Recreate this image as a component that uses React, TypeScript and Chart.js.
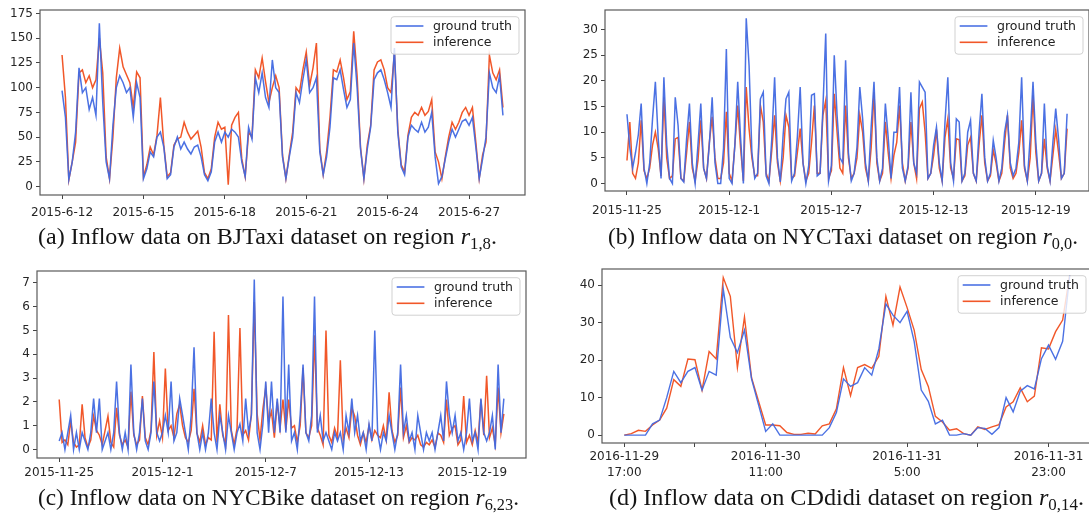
import React, { useEffect, useLayoutEffect, useRef } from "react";
import { Chart, registerables } from "chart.js";

Chart.register(...registerables);

const FONT = '"DejaVu Sans", sans-serif';
const BLUE = "rgba(65,105,225,0.95)";
const ORANGE = "rgba(240,78,30,0.95)";

// ---------- (a) BJTaxi, 3-hour steps starting 2015-6-12 ----------
const bjStepDays = 0.125;
const bjTruth = [
  97, 70, 7, 25, 55, 120, 95, 100,
  78, 90, 72, 165, 85, 25, 8, 62,
  100, 112, 105, 95, 100, 70, 105, 90,
  8, 18, 35, 30, 50, 55, 40, 8,
  12, 40, 50, 38, 45, 38, 33, 40,
  42, 30, 12, 6, 15, 45, 55, 45,
  55, 50, 58, 55, 50, 25, 10, 60,
  48, 110, 95, 115, 90, 80, 128, 100,
  95, 30, 8, 30, 50, 95, 85, 108,
  128, 95, 100, 110, 35, 12, 30, 60,
  110, 108, 118, 98, 80, 88, 145, 100,
  38, 8, 38, 60, 108, 115, 118, 108,
  95, 80, 140, 55, 20, 12, 50, 62,
  58, 55, 65, 55, 60, 75, 30, 3,
  10, 28, 45, 58, 50, 58, 66, 68,
  62, 70, 40, 8, 28, 50, 115, 100,
  95, 112, 72,
];
const bjInfer = [
  133, 90, 7, 25, 45, 115, 118, 105,
  112, 100, 108, 150, 115, 30, 8, 50,
  110, 140, 121, 113, 105, 80, 116, 110,
  10, 22, 40, 32, 52, 90, 42, 10,
  14, 42, 48, 50, 65, 55, 48, 52,
  56, 40, 14, 8, 18, 50, 65, 58,
  60, 2, 62, 70, 75, 28, 10, 55,
  50, 118, 110, 130, 106, 85, 100, 112,
  100, 32, 8, 32, 55, 100, 95, 118,
  136, 102, 120, 145, 38, 12, 35, 70,
  118, 116, 128, 110, 88, 96, 157, 112,
  40, 8, 42, 62, 118, 126, 128, 118,
  100, 95, 135, 58, 22, 15, 52, 70,
  75, 72, 80, 72, 76, 88, 35, 25,
  8, 30, 50, 65, 58, 65, 75, 80,
  72, 80, 45, 8, 32, 45, 133, 115,
  108, 118, 80,
];
const bjTickDays = [0, 3, 6, 9, 12, 15];
const bjTickLabels = ["2015-6-12", "2015-6-15", "2015-6-18", "2015-6-21", "2015-6-24", "2015-6-27"];
const bjYTicks = [0, 25, 50, 75, 100, 125, 150, 175];

// ---------- (b) NYCTaxi, 4-hour steps starting 2015-11-25 ----------
const nycStepDays = 1 / 6;
const nycTaxiTruth = [
  13.5, 7, 3, 6, 9.5, 15.6, 3, 0, 4, 12.6,
  19.8, 8.7, 1, 20.7, 7.5, 1, 0, 16.8, 11.3, 1,
  0.3, 8.7, 15.6, 4, 0, 7.5, 15.6, 3, 1, 7.5,
  16.8, 4, 0, 0, 6.8, 26.2, 1, 0, 7.5, 19.8,
  9, 0, 32.2, 23, 6, 1, 2, 16.5, 17.8, 1.5,
  0, 8.7, 20.7, 5, 0.3, 9.5, 16.5, 17.8, 0.5, 2,
  9, 18.8, 4, 0, 3.5, 17.2, 17.5, 1.5, 2, 14.6,
  29.2, 0.5, 3.5, 25, 13.3, 5, 4, 24, 6, 0.5,
  2, 7, 18.8, 12.6, 4, 0.5, 11, 19.8, 5, 0.5,
  3, 15.6, 9, 1, 10, 10, 18.8, 3, 0.5, 3.5,
  17.8, 4, 2, 19.8, 18.8, 17.8, 1, 2, 7.5, 11,
  4, 0.5, 12, 20.7, 4, 0.5, 12.6, 12, 0.5, 2,
  10, 12.3, 2, 0.5, 10, 17.5, 5, 0.5, 2, 8.4,
  5, 0.5, 3, 10, 13.3, 4, 1.5, 3, 8, 20.7,
  3.5, 0.5, 9, 19.8, 8, 0.5, 2, 15.6, 3.5, 0.5,
  8, 14.6, 8.7, 1, 2, 13.6,
];
const nycTaxiInfer = [
  4.5, 12, 2, 1, 4, 12.3, 2.5, 1, 3, 7.5,
  10, 6.8, 1.5, 16.8, 5, 1, 1.5, 8.7, 9, 1,
  0.5, 6, 12, 3, 0.5, 4.5, 12.3, 3, 1, 8,
  13, 5, 1, 1, 4, 14, 2, 0.5, 7.5, 15.2,
  7, 0.5, 18.8, 10.7, 5, 1.5, 1.5, 15.2, 12, 2,
  0.5, 6.5, 13.3, 4, 0.5, 5, 13.3, 11, 1, 1.5,
  6, 10.7, 4, 0.5, 2, 8, 15.2, 2, 2, 13.3,
  16.2, 1, 2.5, 17.5, 10, 3, 2, 15.2, 5, 1,
  2, 5, 13.3, 10, 3, 0.5, 7, 17.8, 4, 0.5,
  2, 12, 6, 1, 5.5, 8, 15.2, 4, 0.5, 3,
  12, 4, 1, 14.6, 15.9, 10, 1, 2, 5.5, 10.5,
  3, 0.5, 9, 12.6, 3, 1, 8.7, 8.5, 0.5, 1.5,
  7.5, 9, 2, 0.5, 7.5, 13.3, 4, 0.5, 1.5, 6.5,
  4, 0.5, 2, 8, 13.3, 3, 1, 2, 6, 12.3,
  3, 0.5, 5, 17.2, 6, 0.5, 2, 8.7, 3, 0.5,
  5.5, 10.5, 6, 1, 2, 10.7,
];
const nycTickDays = [0, 6, 12, 18, 24];
const nycTickLabels = ["2015-11-25", "2015-12-1", "2015-12-7", "2015-12-13", "2015-12-19"];
const nycTaxiYTicks = [0, 5, 10, 15, 20, 25, 30];

// ---------- (c) NYCBike, 4-hour steps starting 2015-11-25 ----------
const nycBikeTruth = [
  0.36, 0.71, 0, 0.71, 1.43, 0, 0.71, 0, 0.71, 0.36,
  0, 0.71, 2.14, 0.71, 2.14, 0, 0.36, 0.71, 0, 0.71,
  2.86, 0.71, 0, 0.71, 0, 3.57, 0.71, 0, 0.71, 2.14,
  0.36, 0, 0.71, 2.86, 0.71, 0.36, 0.71, 1.43, 0.71, 2.86,
  0.36, 0.71, 2.14, 1.43, 0.71, 0, 1.43, 4.29, 0.71, 0,
  0.71, 0, 0.71, 2.14, 0.71, 0, 1.43, 0.71, 0, 1.43,
  0.71, 0, 0.71, 1.07, 0.36, 2.14, 0.71, 1.43, 7.14, 0.71,
  0, 1.07, 2.86, 0.71, 2.86, 0.71, 2.14, 0.71, 6.43, 0.71,
  3.57, 0.36, 0.71, 0, 1.43, 3.57, 0.71, 0.36, 1.43, 6.43,
  0.71, 1.43, 0.36, 0.71, 0.36, 0, 0.71, 0.36, 0.71, 0,
  1.43, 0.71, 2.14, 0.71, 1.43, 0.36, 0.71, 0, 1.07, 0.36,
  5.0, 0.71, 0, 0.71, 0.36, 1.43, 0.71, 0, 0.71, 3.57,
  0.71, 1.43, 0.36, 0.71, 0, 1.43, 0.71, 0, 0.71, 0.36,
  0.71, 0, 0.71, 1.43, 0.36, 2.86, 1.43, 0.71, 1.43, 0.36,
  0.71, 0, 0.71, 2.14, 0.36, 0.71, 0, 2.14, 0.71, 0.36,
  0.71, 1.43, 0, 3.57, 0.71, 2.14,
];
const nycBikeInfer = [
  2.1, 0.3, 0.4, 0.2, 1.2, 0.3, 0.1, 0.2, 1.9, 0.5,
  0.1, 0.4, 1.4, 0.8, 0.6, 0.2, 0.8, 1.4, 0.3, 0.1,
  1.75, 0.6, 0.2, 0.4, 0.1, 2.43, 0.6, 0.2, 0.4, 2.25,
  0.5, 0.2, 0.8, 4.1, 0.6, 1.2, 0.5, 3.4, 0.8, 1.0,
  0.5, 1.5, 1.9, 1.0, 0.5, 0.3, 0.8, 2.55, 0.7, 0.3,
  1.0, 0.2, 0.5, 0.4, 4.95, 0.3, 1.9, 0.6, 0.2, 5.65,
  0.8, 0.2, 0.9, 5.1, 0.6, 0.8, 0.4, 1.5, 6.2, 1.5,
  0.4, 1.7, 2.6, 1.2, 1.6, 0.5, 2.0, 0.9, 2.1, 0.8,
  2.1, 0.9, 1.0, 0.3, 1.0, 3.43, 0.7, 0.5, 1.0, 4.8,
  0.9, 0.6, 0.2, 5.0, 0.6, 0.3, 0.9, 0.5, 3.75, 0.4,
  0.9, 0.5, 1.75, 1.4, 0.6, 0.2, 0.7, 0.3, 1.0, 0.4,
  0.8, 0.6, 0.5, 1.0, 0.4, 2.4, 0.8, 0.3, 0.6, 2.6,
  0.5, 1.0, 0.3, 0.5, 0.4, 0.6, 0.2, 0.1, 0.3, 0.2,
  0.4, 0.1, 0.7, 0.6, 0.3, 2.1, 0.6, 0.9, 1.0, 0.2,
  0.4, 2.25, 0.3, 0.6, 0.2, 0.8, 0.3, 2.1, 0.6, 3.1,
  0.5, 0.9, 0.2, 2.6, 0.7, 1.5,
];
const nycBikeYTicks = [0, 1, 2, 3, 4, 5, 6, 7];

// ---------- (d) CDdidi, one step per sample starting 2016-11-29 17:00 ----------
const cdStep = 1;
const cdTruth = [
  0, 0, 0, 0, 3, 4, 10, 17, 14, 17,
  18, 12, 17, 16, 39, 26, 22, 28, 15, 8,
  1, 3, 0, 0, 0, 0, 0, 0, 0, 2,
  6, 15, 13, 14, 18, 16, 23, 35, 32, 30,
  33, 25, 12, 9, 3, 4, 0, 0, 0.4, 0,
  2, 1.8, 0.2, 2, 10, 6.2, 11.7, 13.2, 12.3, 20.4,
  24, 20.2, 25, 42.7,
];
const cdInfer = [
  0, 0.4, 1.3, 1, 2.7, 4, 7.2, 14.8, 13, 20.3,
  20.1, 12, 22.3, 20.3, 42, 37, 18, 31.5, 15.3, 9,
  2.7, 2.7, 2.5, 0.7, 0.2, 0.2, 0.5, 0.3, 2.5, 3,
  7, 18, 10.5, 18, 18.8, 17.8, 21, 37, 29.3, 39.5,
  34, 28, 17.5, 13, 5, 3.5, 1.3, 1.7, 0.4, 0,
  2.2, 1.5, 2.2, 2.8, 7.5, 8.9, 12.6, 8.9, 10.4, 23.3,
  23, 27.6, 30.7, 42.7,
];
const cdTicks = [0, 10, 20, 30, 40, 50, 60];
const cdTickLabels: (string | string[])[] = [
  ["2016-11-29", "17:00"], "", ["2016-11-30", "11:00"], "", ["2016-11-31", "5:00"], "", ["2016-11-31", "23:00"],
];
const cdYTicks = [0, 10, 20, 30, 40];

const SERIES_NAMES = ["ground truth", "inference"];

// ---------- plugins ----------
const framePlugin = {
  id: "mplFrame",
  afterDatasetsDraw(chart: any) {
    const { ctx, chartArea: a } = chart;
    ctx.save();
    ctx.strokeStyle = "#5a5a5a";
    ctx.lineWidth = 1.2;
    ctx.strokeRect(a.left, a.top, a.right - a.left, a.bottom - a.top);
    ctx.restore();
  },
};

const legendPlugin = {
  id: "mplLegend",
  afterDraw(chart: any) {
    const { ctx, chartArea: a } = chart;
    const w = 128;
    const h = 37.5;
    const x = a.right - 6 - w;
    const y = a.top + 6.7;
    ctx.save();
    ctx.beginPath();
    if (ctx.roundRect) ctx.roundRect(x, y, w, h, 3);
    else ctx.rect(x, y, w, h);
    ctx.fillStyle = "rgba(255,255,255,0.8)";
    ctx.fill();
    ctx.strokeStyle = "rgba(204,204,204,0.9)";
    ctx.lineWidth = 1;
    ctx.stroke();
    chart.data.datasets.forEach((ds: any, i: number) => {
      const yy = y + 9.3 + i * 16.3;
      ctx.beginPath();
      ctx.moveTo(x + 4.7, yy);
      ctx.lineTo(x + 32.4, yy);
      ctx.strokeStyle = ds.borderColor;
      ctx.lineWidth = 1.6;
      ctx.stroke();
      ctx.fillStyle = "#222";
      ctx.font = `12.5px ${FONT}`;
      ctx.textBaseline = "middle";
      ctx.textAlign = "left";
      ctx.fillText(ds.label, x + 42, yy + 0.5);
    });
    ctx.restore();
  },
};

type Box = { left: number; top: number; width: number; height: number };
type PanelProps = {
  box: Box;
  step: number;
  xRange: [number, number];
  yRange: [number, number];
  xTicks: number[];
  xLabels: (string | string[])[];
  yTicks: number[];
  truth: number[];
  infer: number[];
  xPad: number;
  lineWidth: number;
};

const YW = 50;
const PT = 12;
const PR = 8;
const XH = 45;

function Panel(p: PanelProps) {
  const ref = useRef<HTMLCanvasElement | null>(null);
  const cw = YW + p.box.width + PR;
  const chh = PT + p.box.height + XH;

  useEffect(() => {
    if (!ref.current) return;
    const toPts = (vals: number[]) => vals.map((v, i) => ({ x: i * p.step, y: v }));
    const chart = new Chart(ref.current, {
      type: "line",
      data: {
        datasets: [
          {
            label: SERIES_NAMES[0],
            data: toPts(p.truth),
            borderColor: BLUE,
            borderWidth: p.lineWidth,
            pointRadius: 0,
            tension: 0,
            fill: false,
          },
          {
            label: SERIES_NAMES[1],
            data: toPts(p.infer),
            borderColor: ORANGE,
            borderWidth: p.lineWidth,
            pointRadius: 0,
            tension: 0,
            fill: false,
          },
        ],
      },
      options: {
        animation: false,
        responsive: false,
        maintainAspectRatio: false,
        events: [],
        layout: { padding: { left: 0, right: PR, top: PT, bottom: 0 } },
        plugins: { legend: { display: false }, tooltip: { enabled: false } },
        scales: {
          x: {
            type: "linear",
            min: p.xRange[0],
            max: p.xRange[1],
            grid: { display: true, drawOnChartArea: false, drawTicks: true, tickLength: 4, color: "#444", lineWidth: 1 },
            border: { display: false },
            ticks: {
              autoSkip: false,
              maxRotation: 0,
              minRotation: 0,
              padding: p.xPad,
              color: "#262626",
              font: { family: FONT, size: 12, lineHeight: 1.3 },
              callback: (v: any) => {
                const k = p.xTicks.indexOf(Number(v));
                return k >= 0 ? p.xLabels[k] : "";
              },
            },
            afterBuildTicks: (s: any) => {
              s.ticks = p.xTicks.map((v) => ({ value: v }));
            },
            afterFit: (s: any) => {
              s.height = XH;
              s.paddingLeft = 0;
              s.paddingRight = 0;
            },
          },
          y: {
            type: "linear",
            min: p.yRange[0],
            max: p.yRange[1],
            grid: { display: true, drawOnChartArea: false, drawTicks: true, tickLength: 4, color: "#444", lineWidth: 1 },
            border: { display: false },
            ticks: {
              autoSkip: false,
              padding: 3,
              color: "#262626",
              font: { family: FONT, size: 12 },
              callback: (v: any) => String(v),
            },
            afterBuildTicks: (s: any) => {
              s.ticks = p.yTicks.map((v) => ({ value: v }));
            },
            afterFit: (s: any) => {
              s.width = YW;
              s.paddingTop = 0;
              s.paddingBottom = 0;
            },
          },
        },
      } as any,
      plugins: [framePlugin, legendPlugin],
    });
    return () => chart.destroy();
  }, []);

  return (
    <canvas
      ref={ref}
      width={cw}
      height={chh}
      style={{
        position: "absolute",
        left: p.box.left - YW,
        top: p.box.top - PT,
        width: cw,
        height: chh,
      }}
    />
  );
}

const capStyle: React.CSSProperties = {
  position: "absolute",
  fontFamily: '"Liberation Serif", serif',
  fontSize: 23.5,
  lineHeight: "28px",
  whiteSpace: "nowrap",
  color: "#151515",
  transformOrigin: "0 50%",
};

function Caption(props: { left: number; top: number; width: number; text: string; sub: string }) {
  const ref = useRef<HTMLDivElement | null>(null);
  useLayoutEffect(() => {
    const el = ref.current;
    if (!el) return;
    el.style.transform = "none";
    const w = el.getBoundingClientRect().width;
    if (w > 0) el.style.transform = `scaleX(${props.width / w})`;
  }, []);
  return (
    <div ref={ref} style={{ ...capStyle, left: props.left, top: props.top }}>
      {props.text}
      <i>r</i>
      <span style={{ fontSize: "0.7em", position: "relative", top: "0.3em" }}>{props.sub}</span>.
    </div>
  );
}

export default function App() {
  return (
    <div
      style={{
        position: "absolute",
        left: 0,
        top: 0,
        width: 1089,
        height: 519,
        overflow: "hidden",
        background: "#fff",
      }}
    >
      <Panel
        box={{ left: 40, top: 10, width: 485, height: 185 }}
        step={bjStepDays}
        xRange={[-0.8125, 17.0625]}
        yRange={[-8.5, 178.5]}
        xTicks={bjTickDays}
        xLabels={bjTickLabels}
        yTicks={bjYTicks}
        truth={bjTruth}
        infer={bjInfer}
        xPad={6}
        lineWidth={1.5}
      />
      <Panel
        box={{ left: 605, top: 10, width: 484, height: 181 }}
        step={nycStepDays}
        xRange={[-1.29, 27.12]}
        yRange={[-1.45, 33.8]}
        xTicks={nycTickDays}
        xLabels={nycTickLabels}
        yTicks={nycTaxiYTicks}
        truth={nycTaxiTruth}
        infer={nycTaxiInfer}
        xPad={8}
        lineWidth={1.5}
      />
      <Panel
        box={{ left: 37, top: 271, width: 489, height: 187 }}
        step={nycStepDays}
        xRange={[-1.29, 27.12]}
        yRange={[-0.357, 7.5]}
        xTicks={nycTickDays}
        xLabels={nycTickLabels}
        yTicks={nycBikeYTicks}
        truth={nycBikeTruth}
        infer={nycBikeInfer}
        xPad={3}
        lineWidth={1.5}
      />
      <Panel
        box={{ left: 602, top: 269, width: 490, height: 174 }}
        step={cdStep}
        xRange={[-3.15, 66.15]}
        yRange={[-2.1, 44.3]}
        xTicks={cdTicks}
        xLabels={cdTickLabels}
        yTicks={cdYTicks}
        truth={cdTruth}
        infer={cdInfer}
        xPad={2.5}
        lineWidth={1.4}
      />
      <Caption left={38} top={222} width={459} text="(a) Inflow data on BJTaxi dataset on region " sub="1,8" />
      <Caption left={608} top={222} width={470} text="(b) Inflow data on NYCTaxi dataset on region " sub="0,0" />
      <Caption left={38} top={483} width={481} text="(c) Inflow data on NYCBike dataset on region " sub="6,23" />
      <Caption left={609} top={483} width={475} text="(d) Inflow data on CDdidi dataset on region " sub="0,14" />
    </div>
  );
}
